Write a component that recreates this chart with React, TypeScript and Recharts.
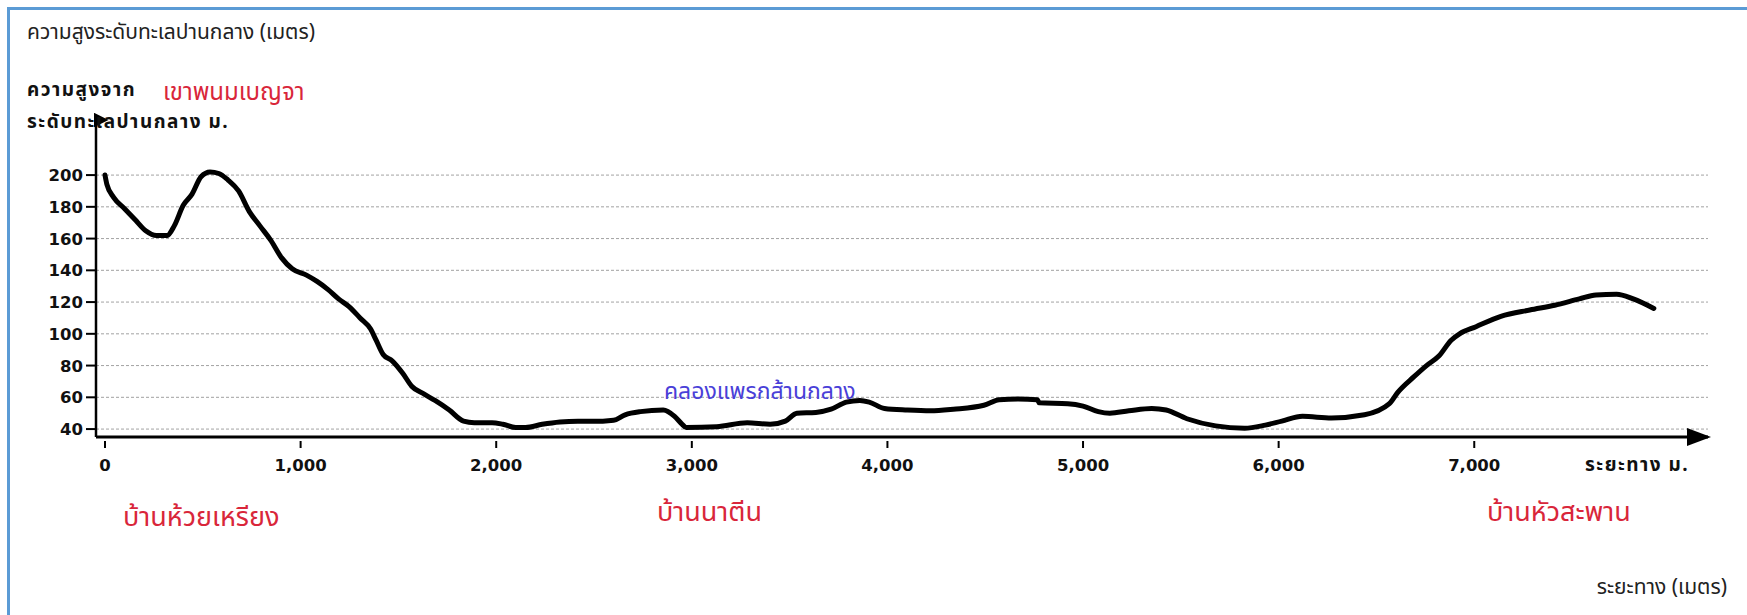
import { CartesianGrid, Line, LineChart, XAxis, YAxis } from "recharts";

// distance along the route (m) and elevation above mean sea level (m)
const distances = [
  0, 10, 44, 99, 153, 208, 263, 318, 354, 400, 445, 491, 537, 582, 628, 683, 738, 792, 847, 902, 957,
  1030, 1084, 1139, 1194, 1249, 1304, 1358, 1386, 1422, 1468, 1523, 1568, 1632, 1687, 1760, 1833, 1888,
  1979, 2034, 2100, 2150, 2235, 2326, 2418, 2545, 2600, 2659, 2737, 2854, 2912, 2951, 2971, 3127, 3283,
  3400, 3478, 3537, 3634, 3712, 3790, 3859, 3907, 3985, 4102, 4220, 4337, 4493, 4571, 4668, 4766, 4776,
  4922, 5000, 5078, 5137, 5234, 5351, 5425, 5531, 5678, 5826, 5932, 6016, 6122, 6270, 6439, 6566, 6608,
  6692, 6756, 6819, 6882, 6925, 7009, 7136, 7284, 7411, 7537, 7622, 7728, 7813, 7918,
];
const elevations = [
  200, 194, 186, 179, 172, 165, 162, 162, 168, 181, 188, 199, 202, 201, 197, 190, 177, 168, 159, 148, 141,
  137, 133, 128, 122, 117, 110, 103, 96, 87, 83, 75, 67, 62, 58, 52, 45, 44,
  44, 43, 41, 41, 43, 44.5, 45, 45, 45.5, 49, 51, 52, 48, 43, 41, 41.5, 44,
  43, 45, 50, 50.5, 52.5, 57, 58, 57, 53, 52, 51.5, 52.5, 55, 58.5, 59, 58.5, 56.5,
  56, 54.5, 51, 50, 51.5, 53, 52, 46.5, 42, 40.5, 42.5, 45, 48, 47, 49, 56, 63,
  73, 80, 86, 96, 100, 104.5, 111, 115, 118, 122, 124.5, 125, 122, 116,
];
const xTicks = [0, 1000, 2000, 3000, 4000, 5000, 6000, 7000];
const yTicks = [40, 60, 80, 100, 120, 140, 160, 180, 200];

const profile = distances.map((d, i) => ({ d, h: elevations[i] }));

const THAI = "'Noto Sans Thai', 'Noto Sans Thai UI', 'Noto Sans', sans-serif";
const BOLD = "'DejaVu Sans', Verdana, sans-serif";
const RED = "#d9263a";

const XTick = ({ x, y, payload }: any) => (
  <g>
    <line x1={x} x2={x} y1={y + 4} y2={y + 11} stroke="#000" strokeWidth={2} />
    <text x={x} y={y + 34} textAnchor="middle" fontFamily={BOLD} fontWeight="bold" fontSize={16.5} fill="#111">
      {payload.value.toLocaleString("en-US")}
    </text>
  </g>
);

const YTick = ({ x, y, payload }: any) => (
  <g>
    <line x1={x - 10} x2={x} y1={y} y2={y} stroke="#000" strokeWidth={2} />
    <text x={x - 13} y={y + 6} textAnchor="end" fontFamily={BOLD} fontWeight="bold" fontSize={16.5} fill="#111">
      {payload.value}
    </text>
  </g>
);

const label = (text: string, pos: any, style: any) => (
  <div style={{ position: "absolute", whiteSpace: "nowrap", lineHeight: 1, ...pos, ...style }}>{text}</div>
);

export default function App() {
  return (
    <div style={{ position: "relative", width: 1747, height: 615, overflow: "hidden", background: "#fff" }}>
      <style>{"body{margin:0}"}</style>
      <div
        style={{
          position: "absolute",
          left: 7,
          top: 7,
          right: -10,
          bottom: -10,
          border: "3px solid #5b9bd5",
        }}
      />
      <LineChart width={1747} height={615} data={profile} margin={{ top: 120, right: 39, bottom: 138, left: 36 }}>
        <defs>
          <marker id="arrowUp" markerWidth="6" markerHeight="6" refX="3" refY="5" orient="auto" markerUnits="strokeWidth">
            <path d="M0,6 L3,0 L6,6 z" fill="#000" />
          </marker>
          <marker id="arrowRight" markerWidth="8" markerHeight="6" refX="7" refY="3" orient="auto" markerUnits="strokeWidth">
            <path d="M0,0 L8,3 L0,6 z" fill="#000" />
          </marker>
        </defs>
        <CartesianGrid
          vertical={false}
          horizontalValues={yTicks}
          stroke="#8a8a8a"
          strokeDasharray="3 2"
          strokeWidth={0.8}
        />
        <XAxis
          dataKey="d"
          type="number"
          domain={[-46, 8195]}
          ticks={xTicks}
          allowDataOverflow
          height={40}
          tickSize={0}
          tickMargin={0}
          tickLine={false}
          axisLine={{ stroke: "#000", strokeWidth: 3, markerEnd: "url(#arrowRight)" }}
          tick={<XTick />}
        />
        <YAxis
          type="number"
          domain={[35, 234.7]}
          ticks={yTicks}
          allowDataOverflow
          width={60}
          tickSize={0}
          tickMargin={0}
          tickLine={false}
          axisLine={{ stroke: "#000", strokeWidth: 2.5, markerStart: "url(#arrowUp)" }}
          tick={<YTick />}
        />
        <Line
          dataKey="h"
          type="monotone"
          stroke="#000"
          strokeWidth={5}
          dot={false}
          isAnimationActive={false}
          strokeLinejoin="round"
          strokeLinecap="round"
        />
      </LineChart>
      {label("ความสูงระดับทะเลปานกลาง (เมตร)", { left: 27, top: 22 }, { fontFamily: THAI, fontSize: 21, color: "#222" })}
      {label("ความสูงจาก", { left: 27, top: 81 }, { fontFamily: THAI, fontSize: 19, fontWeight: "bold", letterSpacing: 1.5, color: "#111" })}
      {label("ระดับทะเลปานกลาง ม.", { left: 27, top: 113 }, { fontFamily: THAI, fontSize: 19, fontWeight: "bold", letterSpacing: 1.5, color: "#111" })}
      {label("เขาพนมเบญจา", { left: 163, top: 81 }, { fontFamily: THAI, fontSize: 24, color: RED })}
      {label("คลองแพรกส้านกลาง", { left: 664, top: 381 }, { fontFamily: THAI, fontSize: 23, color: "#4a3fd8" })}
      {label("บ้านห้วยเหรียง", { left: 123, top: 504 }, { fontFamily: THAI, fontSize: 27, color: RED })}
      {label("บ้านนาตีน", { left: 657, top: 499 }, { fontFamily: THAI, fontSize: 27, color: RED })}
      {label("บ้านหัวสะพาน", { left: 1487, top: 499 }, { fontFamily: THAI, fontSize: 27, color: RED })}
      {label("ระยะทาง ม.", { left: 1585, top: 456 }, { fontFamily: THAI, fontSize: 19, fontWeight: "bold", letterSpacing: 1.5, color: "#111" })}
      {label("ระยะทาง (เมตร)", { right: 20, top: 577 }, { fontFamily: THAI, fontSize: 21, color: "#222" })}
    </div>
  );
}
